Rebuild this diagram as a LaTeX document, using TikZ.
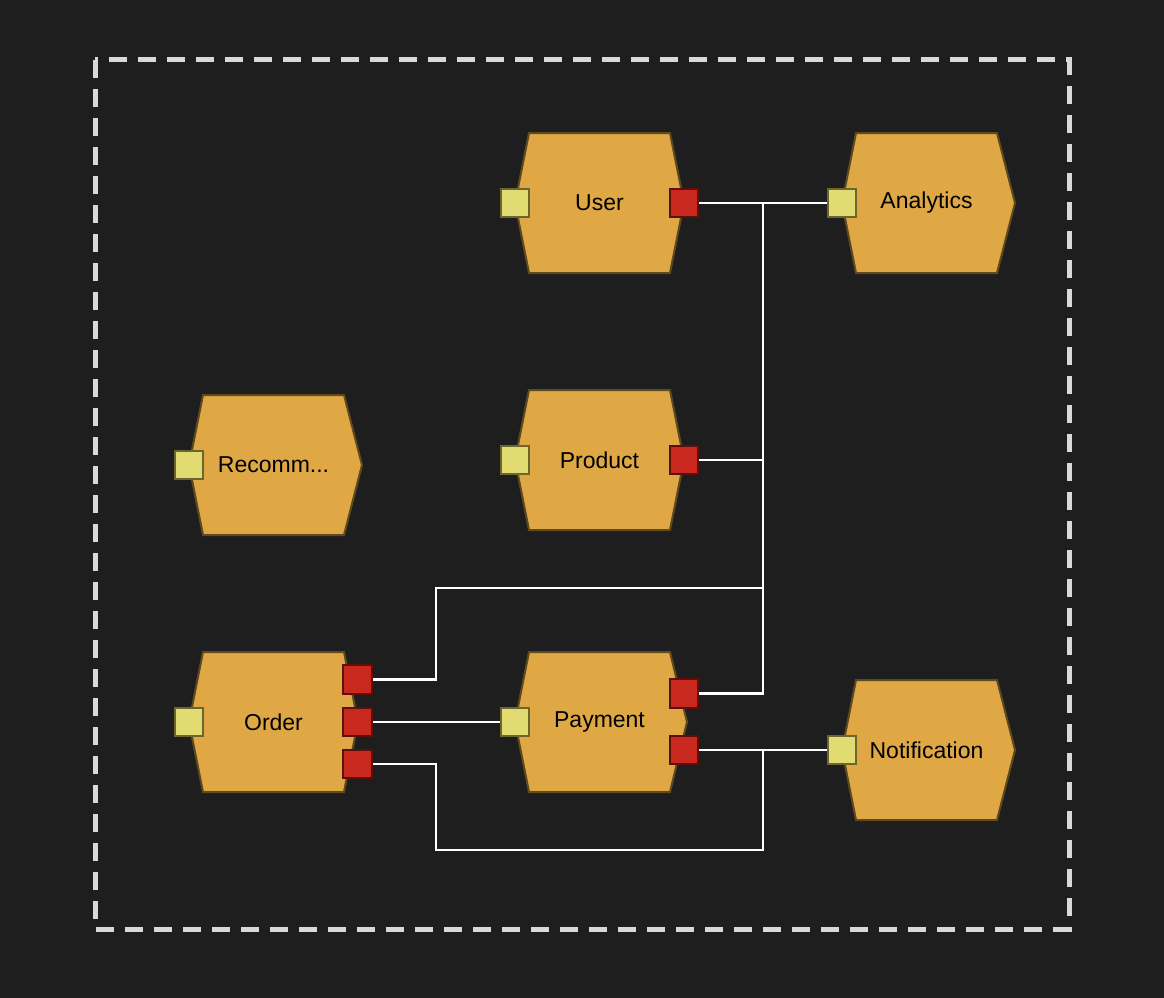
\documentclass[tikz,border=0pt]{standalone}
\usepackage{fontspec}
\setmainfont{Liberation Sans}
\usepackage{tikz}
\usetikzlibrary{positioning}

\definecolor{canvas}{HTML}{1E1E1E}
\definecolor{framegray}{HTML}{D9D9D9}
\definecolor{svcfill}{HTML}{DFA845}
\definecolor{svcline}{HTML}{5E4A1E}
\definecolor{infill}{HTML}{E2DB72}
\definecolor{inline}{HTML}{6B6530}
\definecolor{outfill}{HTML}{C9281E}
\definecolor{outline}{HTML}{5E0F0B}

\newcommand{\recommtxt}{Recomm...}

\tikzset{
  svcbody/.style={fill=svcfill, draw=svcline, line width=2pt, line join=miter},
  svclabel/.style={inner sep=0pt, text=black, font=\fontsize{23}{27}\selectfont},
  inport/.style={rectangle, fill=infill, draw=inline, line width=2pt,
    minimum size=28.5pt, inner sep=0pt},
  outport/.style={rectangle, fill=outfill, draw=outline, line width=2pt,
    minimum size=28.5pt, inner sep=0pt},
  wire/.style={draw=white, line width=2.5pt},
  boundary/.style={draw=framegray, line width=5pt, dash pattern=on 18pt off 11pt}
}

\begin{document}
\begin{tikzpicture}[x=1pt, y=-1pt]
\fill[canvas] (0,0) rectangle (1164,998);
\useasboundingbox (0,0) rectangle (1164,998);

% outer boundary
\draw[boundary] (95,60) rectangle (1069,929);

% services: name / left tip x / centre y / right tip / label
\foreach \name/\xl/\cy/\tip/\txt in {
  user/515/203/14/User,
  analytics/842/203/18/Analytics,
  recomm/189/465/18/\recommtxt,
  product/515/460/14/Product,
  order/189/722/14/Order,
  payment/515/722/17/Payment,
  notification/842/750/18/Notification}
{
  \draw[svcbody] (\xl,\cy) -- ++(14,-70) -- ++(141,0) -- ++(\tip,70)
    -- ++(-\tip,70) -- ++(-141,0) -- cycle;
  \node[svclabel] (\name) at (\xl+84.5,\cy) {\txt};
  \node[inport] (\name-in) at (\xl,\cy) {};
}

% output ports
\node[outport] (user-out) at (684,203) {};
\node[outport] (product-out) at (684,460) {};
\node[outport] (order-out1) at (357.5,679.5) {};
\node[outport] (order-out2) at (357.5,722) {};
\node[outport] (order-out3) at (357.5,764) {};
\node[outport] (payment-out1) at (684,693.5) {};
\node[outport] (payment-out2) at (684,750) {};

% bends of the wiring
\coordinate (bus) at (763,0);
\coordinate (kneeA) at (436,588);
\coordinate (kneeB) at (436,850);

\draw[wire] (user-out) -- (analytics-in);
\draw[wire] (product-out) -- (product-out -| bus);
\draw[wire] (payment-out1) -- (payment-out1 -| bus) -- (user-out -| bus);
\draw[wire] (order-out1) -| (kneeA) -- (kneeA -| bus);
\draw[wire] (order-out2) -- (payment-in);
\draw[wire] (order-out3) -| (kneeB) -- (kneeB -| bus) |- (notification-in);
\draw[wire] (payment-out2) -- (notification-in);
\end{tikzpicture}
\end{document}
